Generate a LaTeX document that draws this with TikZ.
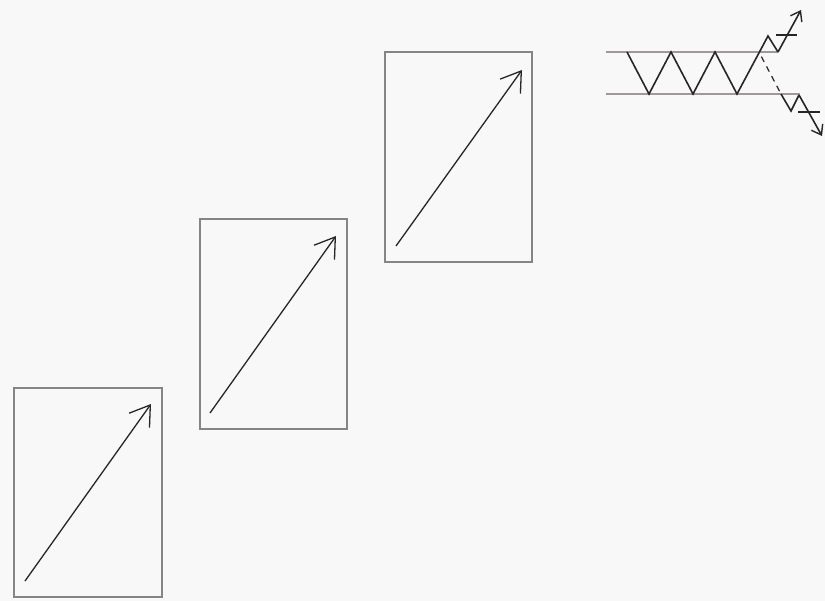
\documentclass[tikz,border=0pt]{standalone}
\usetikzlibrary{arrows.meta}
\definecolor{bg}{HTML}{F8F8F8}
\definecolor{boxline}{HTML}{858585}
\definecolor{chan}{HTML}{A09898}
\definecolor{ink}{HTML}{262626}
\begin{document}
\begin{tikzpicture}[x=1pt,y=-1pt,
  panel/.style={draw=boxline,line width=1.3pt},
  trend/.style={draw=ink,line width=1.3pt,-{Straight Barb[length=19pt,width=25pt,line width=1.3pt]}},
  channel/.style={draw=chan,line width=1.8pt},
  zig/.style={draw=ink,line width=1.6pt,line join=miter},
  zigarrow/.style={zig,-{Straight Barb[length=9pt,width=13pt,line width=1.4pt]}},
  tick/.style={draw=ink,line width=1.6pt}]
\fill[bg] (0,0) rectangle (825,601);
\useasboundingbox (0,0) rectangle (825,601);
% panels
\draw[panel] (14,388) rectangle (162,597);
\draw[panel] (200,219) rectangle (347,429);
\draw[panel] (385,52) rectangle (532,262);
\coordinate (a1) at (25,581); \coordinate (b1) at (151,404);
\coordinate (a2) at (210,413); \coordinate (b2) at (336,236);
\coordinate (a3) at (396,246); \coordinate (b3) at (522,70);
\draw[trend] (a1) -- (b1);
\draw[trend] (a2) -- (b2);
\draw[trend] (a3) -- (b3);
% channel
\coordinate (u0) at (606,52); \coordinate (u1) at (778,52);
\coordinate (l0) at (606,94); \coordinate (l1) at (800,94);
\draw[channel] (u0) -- (u1);
\draw[channel] (l0) -- (l1);
% zigzag
\coordinate (p1) at (627,52);
\coordinate (p2) at (649,94);
\coordinate (p3) at (671,52);
\coordinate (p4) at (693,94);
\coordinate (p5) at (715,52);
\coordinate (p6) at (737,94);
\coordinate (p7) at (768,36);
\coordinate (p8) at (778,52);
\coordinate (p9) at (801,10);
\draw[zig] (p1) -- (p2) -- (p3) -- (p4) -- (p5) -- (p6) -- (p7) -- (p8);
\draw[zigarrow] (p8) -- (p9);
\draw[tick] (776,35) -- (797,35);
% breakdown alternative
\coordinate (d0) at (760,54);
\coordinate (d1) at (781,94);
\coordinate (d2) at (791,111);
\coordinate (d3) at (799,95);
\coordinate (d4) at (822,136);
\draw[zig,line width=1.2pt,dash pattern=on 6pt off 5pt,dash phase=-3pt] (d0) -- (d1);
\draw[zig] (d1) -- (d2) -- (d3);
\draw[zigarrow] (d3) -- (d4);
\draw[tick] (798,112) -- (820,112);
\end{tikzpicture}
\end{document}
